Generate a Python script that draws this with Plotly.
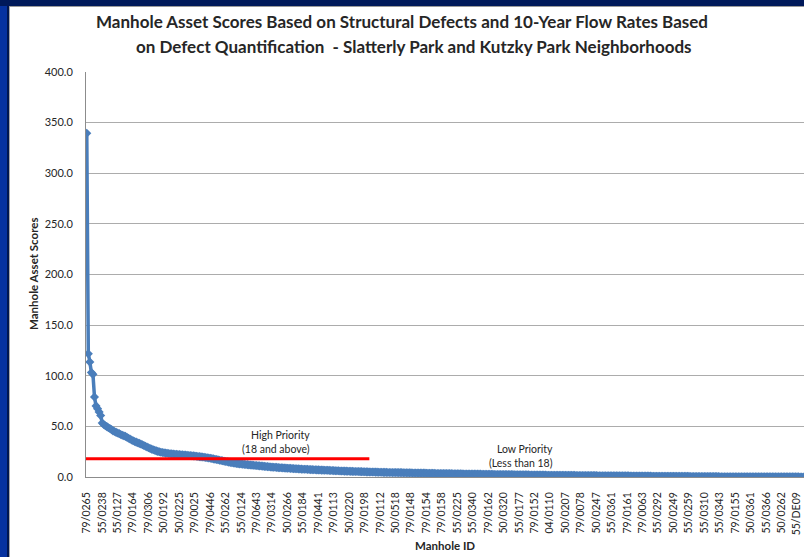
import plotly.graph_objects as go

# Manhole IDs shown on the category axis (every 10th manhole in rank order)
manhole_ids = [
    "79/0265", "55/0238", "55/0127", "79/0164", "79/0306", "50/0192", "50/0225",
    "79/0025", "79/0446", "55/0262", "55/0124", "79/0643", "79/0314", "50/0266",
    "55/0184", "79/0441", "79/0113", "50/0220", "79/0198", "79/0112", "50/0518",
    "79/0148", "79/0154", "79/0158", "55/0225", "55/0340", "79/0162", "50/0320",
    "55/0177", "79/0152", "04/0110", "50/0207", "79/0078", "50/0247", "55/0361",
    "79/0161", "79/0063", "55/0292", "50/0249", "55/0259", "55/0310", "55/0343",
    "79/0155", "50/0361", "55/0366", "50/0262", "55/DE09",
]

# Asset scores, ranked from highest to lowest
scores = [
    339.5, 121.8, 113.6, 103.2, 101.4, 79.0, 70.2, 67.5, 64.3, 60.8,
    53.4, 51.9, 50.6, 49.8, 48.7, 47.9, 46.8, 45.6, 44.9, 44.1,
    43.5, 42.8, 42.0, 41.3, 40.7, 40.1, 39.2, 38.3, 37.5, 36.6,
    35.8, 35.1, 34.4, 33.9, 33.2, 32.6, 31.9, 31.1, 30.3, 29.6,
    28.9, 28.1, 27.5, 26.9, 26.4, 25.8, 25.3, 24.9, 24.5, 24.2,
    23.9, 23.6, 23.4, 23.2, 23.0, 22.8, 22.7, 22.5, 22.4, 22.2,
    22.1, 22.0, 21.9, 21.7, 21.6, 21.5, 21.3, 21.2, 21.0, 20.9,
    20.7, 20.5, 20.3, 20.1, 19.9, 19.7, 19.5, 19.2, 19.0, 18.7,
    18.5, 18.2, 17.9, 17.6, 17.3, 17.0, 16.6, 16.3, 16.0, 15.6,
    15.3, 15.0, 14.7, 14.4, 14.2, 13.9, 13.7, 13.4, 13.2, 13.0,
    12.8, 12.7, 12.5, 12.4, 12.2, 12.0, 11.9, 11.7, 11.6, 11.4,
    11.3, 11.1, 11.0, 10.8, 10.7, 10.5, 10.4, 10.2, 10.1, 9.9,
    9.8, 9.7, 9.6, 9.5, 9.3, 9.2, 9.1, 9.0, 8.9, 8.8,
    8.7, 8.6, 8.5, 8.4, 8.3, 8.2, 8.1, 8.0, 7.9, 7.8,
    7.7, 7.6, 7.6, 7.5, 7.4, 7.3, 7.3, 7.2, 7.1, 7.0,
    7.0, 6.9, 6.8, 6.8, 6.7, 6.6, 6.6, 6.5, 6.4, 6.4,
    6.3, 6.2, 6.2, 6.1, 6.0, 6.0, 5.9, 5.8, 5.8, 5.7,
    5.7, 5.6, 5.6, 5.5, 5.5, 5.4, 5.4, 5.3, 5.3, 5.2,
    5.2, 5.1, 5.1, 5.0, 5.0, 4.9, 4.9, 4.8, 4.8, 4.7,
    4.7, 4.7, 4.6, 4.6, 4.6, 4.5, 4.5, 4.5, 4.4, 4.4,
    4.4, 4.4, 4.3, 4.3, 4.3, 4.2, 4.2, 4.2, 4.1, 4.1,
    4.1, 4.0, 4.0, 4.0, 3.9, 3.9, 3.9, 3.8, 3.8, 3.8,
    3.7, 3.7, 3.7, 3.6, 3.6, 3.6, 3.5, 3.5, 3.5, 3.5,
    3.4, 3.4, 3.4, 3.3, 3.3, 3.3, 3.3, 3.2, 3.2, 3.2,
    3.1, 3.1, 3.1, 3.1, 3.0, 3.0, 3.0, 3.0, 2.9, 2.9,
    2.9, 2.9, 2.8, 2.8, 2.8, 2.8, 2.7, 2.7, 2.7, 2.7,
    2.6, 2.6, 2.6, 2.6, 2.5, 2.5, 2.5, 2.5, 2.4, 2.4,
    2.4, 2.4, 2.4, 2.3, 2.3, 2.3, 2.3, 2.2, 2.2, 2.2,
    2.2, 2.2, 2.1, 2.1, 2.1, 2.1, 2.1, 2.0, 2.0, 2.0,
    2.0, 2.0, 1.9, 1.9, 1.9, 1.9, 1.9, 1.9, 1.8, 1.8,
    1.8, 1.8, 1.8, 1.8, 1.7, 1.7, 1.7, 1.7, 1.7, 1.7,
    1.6, 1.6, 1.6, 1.6, 1.6, 1.6, 1.6, 1.5, 1.5, 1.5,
    1.5, 1.5, 1.5, 1.5, 1.4, 1.4, 1.4, 1.4, 1.4, 1.4,
    1.4, 1.3, 1.3, 1.3, 1.3, 1.3, 1.3, 1.3, 1.2, 1.2,
    1.2, 1.2, 1.2, 1.2, 1.2, 1.1, 1.1, 1.1, 1.1, 1.1,
    1.1, 1.1, 1.0, 1.0, 1.0, 1.0, 1.0, 1.0, 1.0, 0.9,
    0.9, 0.9, 0.9, 0.9, 0.9, 0.9, 0.8, 0.8, 0.8, 0.8,
    0.8, 0.8, 0.8, 0.8, 0.7, 0.7, 0.7, 0.7, 0.7, 0.7,
    0.7, 0.7, 0.6, 0.6, 0.6, 0.6, 0.6, 0.6, 0.6, 0.6,
    0.6, 0.5, 0.5, 0.5, 0.5, 0.5, 0.5, 0.5, 0.5, 0.5,
    0.4, 0.4, 0.4, 0.4, 0.4, 0.4, 0.4, 0.4, 0.4, 0.4,
    0.3, 0.3, 0.3, 0.3, 0.3, 0.3, 0.3, 0.3, 0.3, 0.3,
    0.3, 0.3, 0.3, 0.3, 0.3, 0.2, 0.2, 0.2, 0.2, 0.2,
    0.2, 0.2, 0.2, 0.2, 0.2, 0.2, 0.2, 0.2, 0.2, 0.2,
    0.2, 0.2, 0.2, 0.2, 0.1, 0.1, 0.1, 0.1, 0.1, 0.1,
    0.1, 0.1, 0.1, 0.1, 0.1, 0.1, 0.1, 0.1, 0.1, 0.1,
    0.1, 0.1, 0.0, 0.0, 0.0,
]

priority_threshold = 18
label_step = 10
y_ticks = [0, 50, 100, 150, 200, 250, 300, 350, 400]

rank = list(range(len(scores)))
n = len(scores)

FONT = "Lato"
TEXT = "#262626"
BLUE = "#4A7EBB"

fig = go.Figure()
fig.add_trace(go.Scatter(
    x=rank,
    y=scores,
    mode="lines+markers",
    line=dict(color=BLUE, width=3.5),
    marker=dict(symbol="diamond", size=7, color=BLUE),
    showlegend=False,
    hoverinfo="skip",
))

# threshold separating high and low priority manholes
fig.add_shape(
    type="line", xref="x", yref="y",
    x0=-1.8, x1=183, y0=priority_threshold, y1=priority_threshold,
    line=dict(color="#FF0000", width=3),
)

# dark blue frame around the white chart area (paper coords are relative to the plot area)
W, H = 804, 557
L, R, T, B = 86, 0, 72, 80
pw, ph = W - L - R, H - T - B

def px(xp):
    return (xp - L) / pw

def py(yp):
    return (H - B - yp) / ph

frame = [
    (0, 0, 8, H, "#0632A0"),
    (7, 0, 9, H, "#001650"),
    (9, 6, 10, H, "#A8A8A8"),
    (0, 0, W, 6, "#00195A"),
    (9, 6, W, 7, "#9A9A9A"),
]
for x0, y0, x1, y1, col in frame:
    fig.add_shape(type="rect", xref="paper", yref="paper",
                  x0=px(x0), x1=px(x1), y0=py(y1), y1=py(y0),
                  line=dict(width=0), fillcolor=col, layer="above")

annotations = [
    dict(text="<b>Manhole Asset Scores Based on Structural Defects and 10-Year Flow Rates Based</b>",
         x=px(402), y=py(22), font=dict(size=17, color=TEXT, family=FONT)),
    dict(text="<b>on Defect Quantification  - Slatterly Park and Kutzky Park Neighborhoods</b>",
         x=px(414), y=py(47), font=dict(size=17, color=TEXT, family=FONT)),
    dict(text="<b>Manhole Asset Scores</b>", x=px(33), y=py(274), textangle=-90,
         font=dict(size=11.5, color=TEXT, family=FONT)),
    dict(text="<b>Manhole ID</b>", x=px(445), y=py(545),
         font=dict(size=11.5, color=TEXT, family=FONT)),
]
for a in annotations:
    fig.add_annotation(xref="paper", yref="paper", showarrow=False,
                       xanchor="center", yanchor="middle", **a)

fig.add_annotation(text="High Priority<br>(18 and above)", xref="x", yref="y",
                   x=146, y=34.9, xanchor="right", yanchor="middle", align="right",
                   showarrow=False, font=dict(size=10.5, color=TEXT, family=FONT))
fig.add_annotation(text="Low Priority<br>(Less than 18)", xref="x", yref="y",
                   x=303, y=21.2, xanchor="right", yanchor="middle", align="right",
                   showarrow=False, font=dict(size=10.5, color=TEXT, family=FONT))

fig.update_layout(
    width=W, height=H,
    margin=dict(l=L, r=R, t=T, b=B, pad=0),
    paper_bgcolor="white", plot_bgcolor="white",
    font=dict(family=FONT, color=TEXT),
    xaxis=dict(
        range=[-0.5, n - 0.5],
        tickmode="array",
        tickvals=rank[::label_step],
        ticktext=manhole_ids,
        tickangle=-90,
        tickfont=dict(size=10.5, color=TEXT, family=FONT),
        ticklabelstandoff=10,
        showgrid=False, zeroline=False,
        showline=True, linecolor="#8C8C8C", linewidth=1,
        ticks="",
    ),
    yaxis=dict(
        range=[0, 400],
        tickmode="array",
        tickvals=y_ticks,
        ticktext=[f"{v:.1f}" for v in y_ticks],
        tickfont=dict(size=11, color=TEXT, family=FONT),
        ticklabelstandoff=10,
        showgrid=True, gridcolor="#ACACAC", gridwidth=1,
        zeroline=False,
        showline=True, linecolor="#8C8C8C", linewidth=1,
        ticks="",
    ),
)

fig.write_html("out.html")
